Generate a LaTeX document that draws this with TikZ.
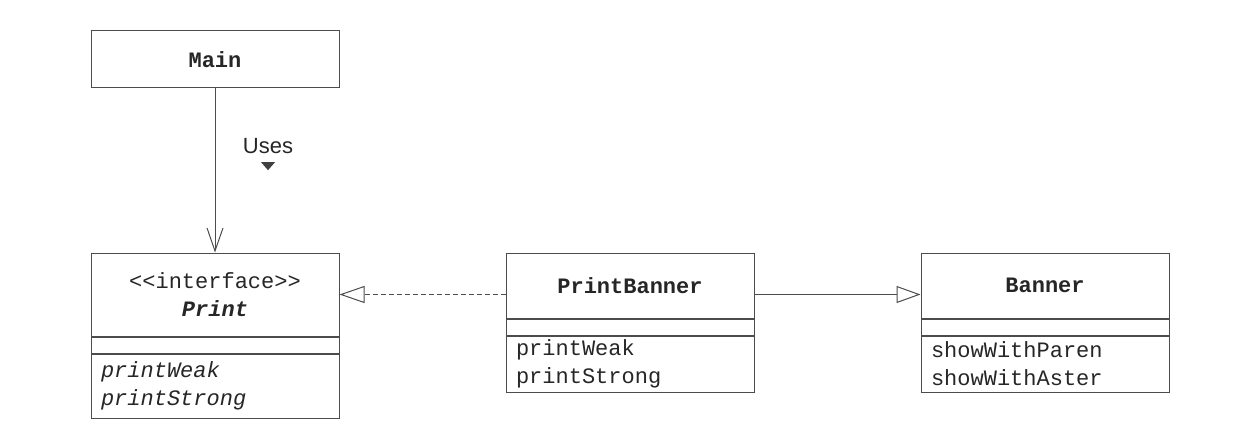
\documentclass[tikz,border=0pt]{standalone}
\usepackage{fontspec}
\setmainfont{Liberation Sans}
\setmonofont{Liberation Mono}
\usetikzlibrary{positioning}
\usetikzlibrary{arrows.meta}
\tikzset{name box/.style={draw=black!70,minimum width=124pt,inner sep=0pt,align=center,font=\ttfamily\bfseries\fontsize{11}{14}\selectfont},
	gap box/.style={draw=black!70,minimum width=124pt,minimum height=8pt,inner sep=0pt},
	op box/.style={draw=black!70,text width=114pt,inner xsep=5pt,inner ysep=0pt,align=left,font=\ttfamily\fontsize{11}{14}\selectfont},
	realizes/.style={draw=black!70,dash pattern=on 2.5pt off 1.5pt,-{Triangle[open,length=12.5pt,width=8.5pt]}},
	extends/.style={draw=black!70,-{Triangle[open,length=12pt,width=8.5pt]}},
}

\begin{document}
\begin{tikzpicture}[x=0.5pt,y=-0.5pt,line width=0.5pt,text=black!85]
	\useasboundingbox (0,0) rectangle (1246,444);
	\node[name box, minimum height=28.5pt] (main) at (215,59.5) {Main};
	\node[name box, minimum height=41.5pt] (print) [below=82pt of main] {{\mdseries <\kern0pt<interface>\kern0pt>}\\\itshape Print};
	\node[gap box] (printgap) [below=0pt of print] {};
	\node[op box, minimum height=32pt, font=\ttfamily\itshape\fontsize{11}{14}\selectfont] (printops) [below=0pt of printgap] {printWeak\\printStrong};

	\node[name box, minimum height=32.5pt] (pb) [right=83pt of print.north east, anchor=north west] {PrintBanner};
	\node[gap box] (pbgap) [below=0pt of pb] {};
	\node[op box, minimum height=28pt] (pbops) [below=0pt of pbgap] {printWeak\\printStrong};

	\node[name box, minimum height=32.5pt] (banner) [right=83pt of pb] {Banner};
	\node[gap box] (bannergap) [below=0pt of banner] {};
	\node[op box, minimum height=28pt] (bannerops) [below=0pt of bannergap] {showWithParen\\showWithAster};

	\node[inner sep=0pt, font=\fontsize{11}{13}\selectfont] (uses) at (268,146) {Uses};
	\fill[black!75] ([xshift=-3.5pt,yshift=-4pt]uses.south) -- ([xshift=3.5pt,yshift=-4pt]uses.south) -- ([yshift=-8pt]uses.south) -- cycle;

	\draw[draw=black!70,-{Straight Barb[length=11.5pt,width=8pt]}] (main) -- (print);
	\draw[realizes] (print.east -| pb.west) -- (print.east);
	\draw[extends] (print.east -| pb.east) -- (print.east -| banner.west);
\end{tikzpicture}
\end{document}
